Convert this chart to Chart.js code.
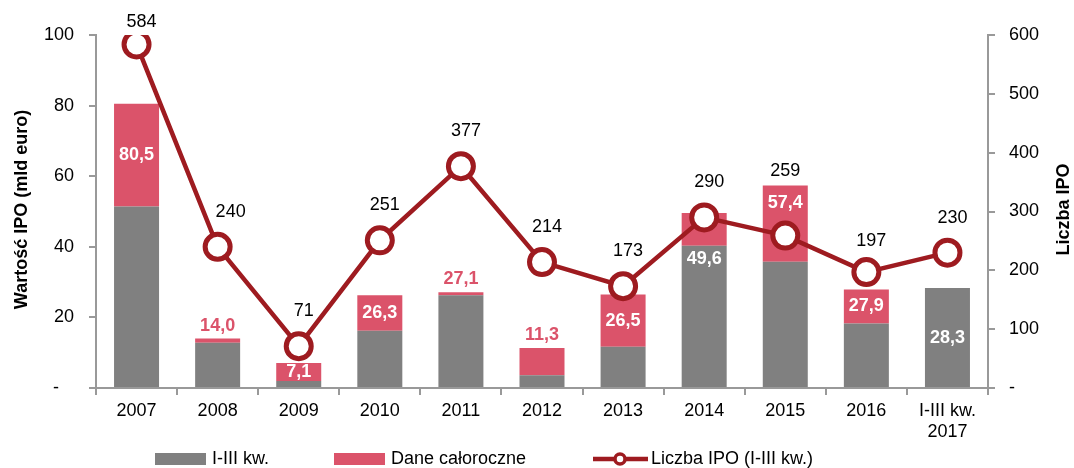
<!DOCTYPE html>
<html>
<head>
<meta charset="utf-8">
<script src="https://cdn.jsdelivr.net/npm/chart.js@4"></script>
<style>
  html, body { margin: 0; padding: 0; background: #fff; }
  #wrap { width: 1074px; height: 468px; }
</style>
</head>
<body>
<div id="wrap"><canvas id="chart" width="1074" height="468"></canvas></div>
<script>
// data
var labels = ['2007', '2008', '2009', '2010', '2011', '2012', '2013', '2014', '2015', '2016', ['I-III kw.', '2017']];
var q1to3 = [51.4, 12.8, 2.0, 16.2, 26.3, 3.6, 11.7, 40.3, 35.8, 18.3, 28.3];
var fullYear = [80.5, 14.0, 7.1, 26.3, 27.1, 11.3, 26.5, 49.6, 57.4, 27.9, 28.3];
var ipoCount = [584, 240, 71, 251, 377, 214, 173, 290, 259, 197, 230];
// where the full-year label sits for each bar
var labelPlace = ['mid', 'above', 'mid', 'mid', 'above', 'above', 'mid', 'grayTop', 'top', 'mid', 'mid'];

var remainder = fullYear.map(function(v, i) { return Math.round((v - q1to3[i]) * 10) / 10; });

var GRAY = '#808080';
var PINK = '#DB536A';
var DARKRED = '#9E1B20';
var FONT = '"Liberation Sans", Arial, sans-serif';
var FS = 18;

function fmt(v) { return v.toFixed(1).replace('.', ','); }

var labelsPlugin = {
    id: 'valueLabels',
    afterDatasetsDraw: function(chart) {
        var ctx = chart.ctx;
        var y = chart.scales.y;
        var gray = chart.getDatasetMeta(0).data;
        var line = chart.getDatasetMeta(2).data;
        ctx.save();
        ctx.textAlign = 'center';
        ctx.textBaseline = 'middle';
        ctx.font = 'bold ' + FS + 'px ' + FONT;
        fullYear.forEach(function(v, i) {
            var x = gray[i].x;
            var yTot = y.getPixelForValue(v);
            var yGray = y.getPixelForValue(q1to3[i]);
            var ty, col = '#fff';
            if (labelPlace[i] == 'above') { ty = yTot - 13; col = PINK; }
            else if (labelPlace[i] == 'grayTop') { ty = yGray + 13; }
            else if (labelPlace[i] == 'top') { ty = yTot + 18; }
            else if (remainder[i] > 0) { ty = (yTot + yGray) / 2; }
            else { ty = (yGray + y.getPixelForValue(0)) / 2; }
            ctx.fillStyle = col;
            ctx.fillText(fmt(v), x, ty);
        });
        ctx.font = FS + 'px ' + FONT;
        ctx.fillStyle = '#000';
        ipoCount.forEach(function(v, i) {
            var p = line[i];
            var barTop = y.getPixelForValue(fullYear[i]);
            var ty = Math.min(p.y - 35, barTop - 14);
            if (i == 9) ty = p.y - 31;
            ty = Math.max(ty, 22);
            var dx = 5;
            if (i == 1) dx = 13;
            if (i == 8) dx = 0;
            ctx.fillText(String(v), p.x + dx, ty);
        });
        ctx.restore();
    }
};

var decorPlugin = {
    id: 'decor',
    afterDraw: function(chart) {
        var ctx = chart.ctx;
        var area = chart.chartArea;
        var midY = (area.top + area.bottom) / 2;
        ctx.save();
        // axis titles
        ctx.font = 'bold ' + FS + 'px ' + FONT;
        ctx.fillStyle = '#000';
        ctx.textAlign = 'center';
        ctx.textBaseline = 'middle';
        ctx.save();
        ctx.translate(22, midY - 2);
        ctx.rotate(-Math.PI / 2);
        ctx.fillText('Wartość IPO (mld euro)', 0, 0);
        ctx.restore();
        ctx.save();
        ctx.translate(1064, midY - 2);
        ctx.rotate(-Math.PI / 2);
        ctx.fillText('Liczba IPO', 0, 0);
        ctx.restore();

        // legend
        var yy = 459;
        ctx.font = FS + 'px ' + FONT;
        ctx.textAlign = 'left';
        ctx.fillStyle = GRAY;
        ctx.fillRect(155, yy - 6, 51, 12);
        ctx.fillStyle = '#000';
        ctx.fillText('I-III kw.', 212, yy);
        ctx.fillStyle = PINK;
        ctx.fillRect(334, yy - 6, 51, 12);
        ctx.fillStyle = '#000';
        ctx.fillText('Dane całoroczne', 391, yy);
        ctx.strokeStyle = DARKRED;
        ctx.lineWidth = 4.5;
        ctx.beginPath();
        ctx.moveTo(593, yy);
        ctx.lineTo(648, yy);
        ctx.stroke();
        ctx.beginPath();
        ctx.fillStyle = '#fff';
        ctx.lineWidth = 3.5;
        ctx.arc(620, yy, 5, 0, Math.PI * 2);
        ctx.fill();
        ctx.stroke();
        ctx.fillStyle = '#000';
        ctx.fillText('Liczba IPO (I-III kw.)', 651, yy);
        ctx.restore();
    }
};

var ctx = document.getElementById('chart');
var myChart = new Chart(ctx, {
    data: {
        labels: labels,
        datasets: [
            {
                type: 'bar',
                label: 'I-III kw.',
                data: q1to3,
                backgroundColor: GRAY,
                yAxisID: 'y',
                stack: 's',
                order: 2
            },
            {
                type: 'bar',
                label: 'Dane całoroczne',
                data: remainder,
                backgroundColor: PINK,
                yAxisID: 'y',
                stack: 's',
                order: 2
            },
            {
                type: 'line',
                label: 'Liczba IPO (I-III kw.)',
                data: ipoCount,
                yAxisID: 'y2',
                borderColor: DARKRED,
                borderWidth: 4.5,
                pointRadius: 12.5,
                pointBorderWidth: 5,
                pointBackgroundColor: '#fff',
                pointBorderColor: DARKRED,
                tension: 0,
                order: 1
            }
        ]
    },
    options: {
        responsive: false,
        animation: false,
        maintainAspectRatio: false,
        layout: { padding: { top: 35, left: 0, right: 0, bottom: 0 } },
        datasets: {
            bar: { barPercentage: 0.555, categoryPercentage: 1.0 }
        },
        plugins: {
            legend: { display: false },
            tooltip: { enabled: false }
        },
        scales: {
            x: {
                stacked: true,
                offset: true,
                border: { color: '#999', width: 2 },
                grid: { display: true, offset: true, drawOnChartArea: false, tickLength: 7, color: '#999', lineWidth: 2 },
                ticks: { color: '#000', font: { family: FONT, size: FS }, padding: 5, maxRotation: 0, autoSkip: false },
                afterFit: function(s) { s.height = 80; }
            },
            y: {
                stacked: true,
                position: 'left',
                min: 0, max: 100,
                border: { color: '#999', width: 2 },
                grid: { display: true, drawOnChartArea: false, tickLength: 7, color: '#999', lineWidth: 2 },
                ticks: {
                    stepSize: 20, color: '#000', padding: 15,
                    font: { family: FONT, size: FS },
                    callback: function(v) { return v === 0 ? '-   ' : v; }
                },
                afterFit: function(s) { s.width = 96; }
            },
            y2: {
                position: 'right',
                min: 0, max: 600,
                border: { color: '#999', width: 2 },
                grid: { display: true, drawOnChartArea: false, tickLength: 7, color: '#999', lineWidth: 2 },
                ticks: {
                    stepSize: 100, color: '#000', padding: 14,
                    font: { family: FONT, size: FS },
                    callback: function(v) { return v === 0 ? '-' : v; }
                },
                afterFit: function(s) { s.width = 86; }
            }
        }
    },
    plugins: [labelsPlugin, decorPlugin]
});
</script>
</body>
</html>
